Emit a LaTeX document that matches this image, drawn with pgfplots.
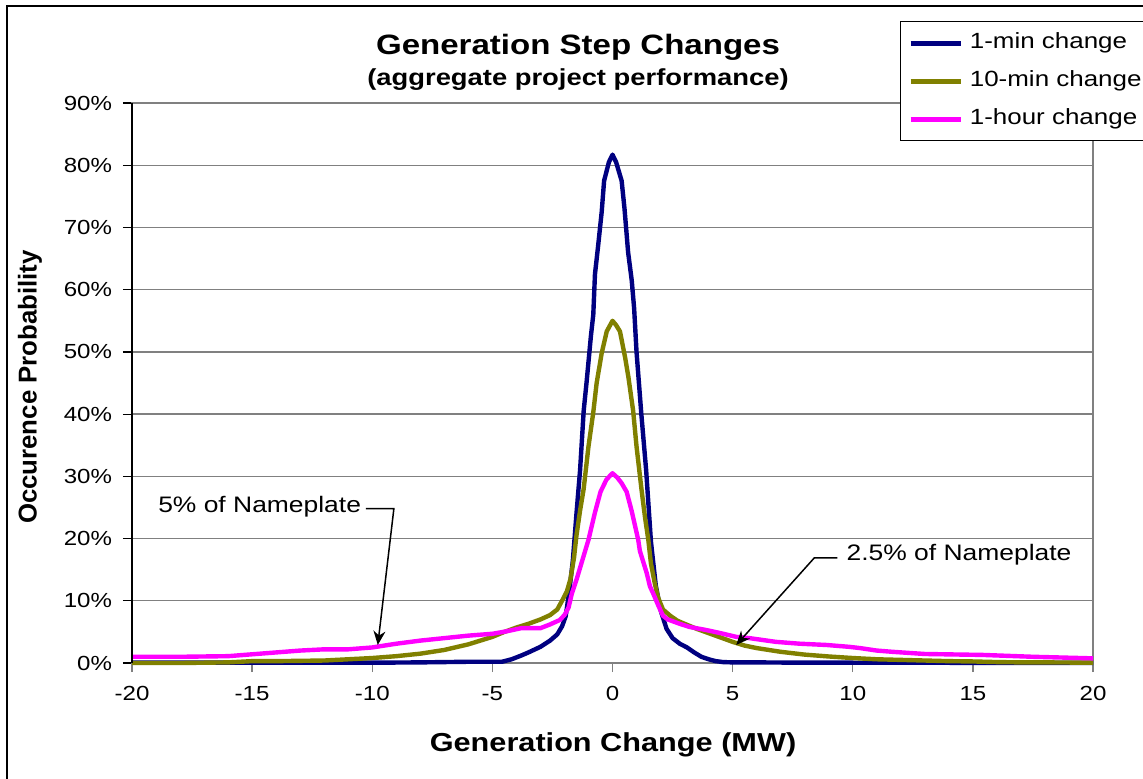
\documentclass[border=0pt]{standalone}
\usepackage{pgfplots}
\pgfplotsset{compat=1.18}
\usepackage{fontspec}
\setmainfont{Liberation Sans}[FakeStretch=1.18]
\newfontfamily\plainfont{Liberation Sans}
\usetikzlibrary{arrows.meta}

\definecolor{minc}{HTML}{000080}
\definecolor{tenc}{HTML}{808000}
\definecolor{hrc}{HTML}{FF00FF}

\newcommand\tickfont{\fontsize{10.2}{12}\selectfont}
\newcommand\legfont{\fontsize{11}{13}\selectfont}
\newcommand\notefont{\fontsize{11.2}{13}\selectfont}

\begin{document}
\begin{tikzpicture}
\begin{axis}[
    at={(66pt,57.5pt)}, anchor=south west,
    scale only axis, width=480.5pt, height=280pt,
    xmin=-20, xmax=20, ymin=0, ymax=90,
    xtick={-20,-15,...,20},
    ytick={0,10,...,90},
    yticklabel={\pgfmathprintnumber{\tick}\%},
    /pgf/number format/assume math mode=true,
    tick label style={font=\tickfont},
    xticklabel style={yshift=-3.5pt},
    yticklabel style={xshift=-2pt},
    tick pos=left,
    tick align=outside, major tick length=4.5pt,
    xtick style={black!50, line width=0.7pt}, ytick style={black, line width=0.6pt},
    ymajorgrids, grid style={black!50, line width=0.7pt},
    axis line style={black!50, line width=0.7pt},
    clip=false,
    legend cell align=left,
    legend style={at={(0.799,1.146)}, anchor=north west, draw=black,
        line width=0.6pt, font=\legfont, inner xsep=4pt, inner ysep=5.5pt,
        row sep=8.5pt, column sep=3.5pt,
        nodes={inner sep=0pt, text height=8pt, text depth=2.5pt}},
    legend image code/.code={\draw[#1, line width=2.2pt] (0pt,0pt) -- (25pt,0pt);},
    every axis plot/.append style={line width=2.2pt, line join=round},
]

% plot area border on the right
\draw[black!50, line width=0.8pt] (axis cs:20,-1.2) -- (axis cs:20,90);

% 1-min change
\addplot[color=minc] coordinates {
(-20,0.05) (-16,0.05) (-12,0.05) (-10,0.05) (-8,0.1) (-6,0.2) (-5,0.2)
(-4.6,0.2) (-4.2,0.6) (-3.8,1.2) (-3.5,1.7) (-3.0,2.6) (-2.6,3.6) (-2.3,4.6)
(-2.1,5.9) (-1.95,7.5) (-1.8,11.5) (-1.65,16.5) (-1.5,24) (-1.35,31)
(-1.2,40.5) (-1.07,45.5) (-0.9,52.5) (-0.8,56) (-0.73,62.5) (-0.6,67)
(-0.45,72.5) (-0.35,77.5) (-0.15,80.5) (0,81.7)
(0.15,80.5) (0.38,77.5) (0.5,73) (0.65,66) (0.8,61.5) (0.9,57) (1.0,50)
(1.2,40) (1.4,31) (1.6,19.5) (1.8,12.5) (2.0,8.5) (2.25,5.5) (2.5,4.0)
(2.8,3.1) (3.1,2.5) (3.4,1.7) (3.7,1.0) (4.0,0.6) (4.3,0.3) (4.6,0.15)
(5,0.1) (6,0.1) (8,0.05) (10,0.05) (15,0.03) (20,0.02)
};
\addlegendentry{1-min change}

% 10-min change
\addplot[color=tenc] coordinates {
(-20,0) (-18,0) (-16,0.1) (-15,0.3) (-14,0.3) (-12,0.4) (-11,0.6) (-10,0.8)
(-9,1.1) (-8,1.5) (-7,2.1) (-6,3.0) (-5,4.2) (-4.5,5.0) (-4,5.7) (-3.5,6.3)
(-3,7.0) (-2.6,7.7) (-2.3,8.6) (-2.1,10.0) (-1.9,11.5) (-1.75,13.5)
(-1.6,17) (-1.5,20.5) (-1.35,24.5) (-1.2,28) (-1.0,34.8) (-0.8,40.3)
(-0.66,45) (-0.45,49.8) (-0.24,53.3) (0,55)
(0.15,54.3) (0.31,53.3) (0.52,49.2) (0.66,46) (0.86,40.5) (1.0,34.8)
(1.21,27.8) (1.35,23.5) (1.49,19.8) (1.6,16) (1.76,12.8) (1.9,10.5)
(2.1,8.6) (2.4,7.6) (2.7,6.8) (3.0,6.3) (3.5,5.5) (4.0,4.8) (4.5,4.1)
(5.0,3.4) (5.5,2.8) (6.0,2.4) (7,1.8) (8,1.35) (9,1.05) (10,0.8) (11,0.6)
(12,0.5) (13,0.4) (14,0.3) (15,0.25) (16,0.15) (17,0.1) (18,0.1) (20,0.05)
};
\addlegendentry{10-min change}

% 1-hour change
\addplot[color=hrc] coordinates {
(-20,1.0) (-18,1.0) (-16,1.1) (-15,1.4) (-14,1.7) (-13,2.0) (-12,2.2)
(-11,2.2) (-10,2.5) (-9,3.1) (-8,3.6) (-7,4.0) (-6,4.4) (-5,4.7) (-4.4,5.1)
(-3.8,5.6) (-3.0,5.6) (-2.6,6.2) (-2.2,6.9) (-2.0,7.7) (-1.83,8.9)
(-1.69,11.2) (-1.49,13.5) (-1.35,15.3) (-1.0,19.8) (-0.73,24.2)
(-0.5,27.5) (-0.25,29.5) (0,30.5)
(0.2,29.8) (0.38,28.9) (0.59,27.5) (0.8,24.4) (1.07,19.8) (1.14,18)
(1.42,14.5) (1.56,12.3) (1.69,11.2) (1.9,9.3) (2.1,7.6) (2.3,7.0)
(2.8,6.3) (3.2,5.8) (3.9,5.3) (4.5,4.8) (5.15,4.2) (5.7,4.0) (6.8,3.4)
(7.8,3.1) (8.9,2.9) (9.85,2.6) (10.3,2.4) (11,2.0) (11.65,1.8) (13,1.45)
(15.4,1.3) (17.5,1.0) (20,0.75)
};
\addlegendentry{1-hour change}

% left axis line
\draw[black, line width=0.7pt] (axis cs:-20,0) -- (axis cs:-20,90);

% annotations
\node[anchor=east, font=\notefont, inner sep=0pt] at (axis cs:-10.45,25.1) {5\% of Nameplate};
\draw[line width=0.75pt, -{Stealth[length=7pt,width=6pt]}]
    (axis cs:-10.27,24.8) -- (axis cs:-9.1,24.8) -- (axis cs:-9.77,2.9);
\node[anchor=west, font=\notefont, inner sep=0pt] at (axis cs:9.73,17.4) {2.5\% of Nameplate};
\draw[line width=0.75pt, -{Stealth[length=7pt,width=6pt]}]
    (axis cs:9.36,16.9) -- (axis cs:8.4,16.9) -- (axis cs:5.15,2.9);
\end{axis}

\begin{scope}[x=0.5pt, y=-0.5pt, yshift=389pt]
  \draw[black, line width=0.6pt] (7,6) rectangle (1170,800);
  \node[font=\bfseries\fontsize{14}{16}\selectfont] at (578,47) {Generation Step Changes};
  \node[font=\bfseries\fontsize{11.6}{13}\selectfont] at (578,80) {(aggregate project performance)};
  \node[font=\bfseries\fontsize{13}{15}\selectfont] at (613,745) {Generation Change (MW)};
  \node[rotate=90, font=\plainfont\bfseries\fontsize{12.9}{15}\selectfont] at (30,387) {Occurence Probability};
\end{scope}

\pgfresetboundingbox
\path[use as bounding box] (0,0) rectangle (571.5pt,389pt);
\end{tikzpicture}
\end{document}
